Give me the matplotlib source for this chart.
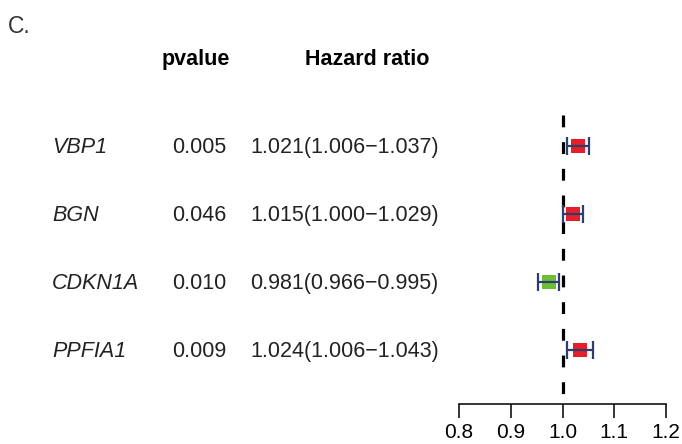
import numpy as np
import matplotlib
matplotlib.use('Agg')
import matplotlib.pyplot as plt

plt.rcParams['font.family'] = ['Liberation Sans', 'DejaVu Sans']

genes = ['VBP1', 'BGN', 'CDKN1A', 'PPFIA1']
pvals = [0.005, 0.046, 0.010, 0.009]
hr = [1.021, 1.015, 0.981, 1.024]
hr_low = [1.006, 1.000, 0.966, 1.006]
hr_high = [1.037, 1.029, 0.995, 1.043]
axis_ticks = [0.8, 0.9, 1.0, 1.1, 1.2]

W, H = 682, 444
fig = plt.figure(figsize=(W / 100, H / 100), dpi=100)

# rows share one vertical mapping: row 0 at 145 px, 68 px apart
row0, step = 145.5, 68.0
ylo, yhi = (H - row0) / step, -row0 / step

# text columns live on a full-figure axes in pixel x
ax_txt = fig.add_axes([0, 0, 1, 1])
ax_txt.set_xlim(0, W)
ax_txt.set_ylim(ylo, yhi)
ax_txt.axis('off')

fs = 15.5
ax_txt.text(8, 33 / step + yhi, 'C.', fontsize=16.5, color='#333333', va='baseline')
ax_txt.text(162, 65 / step + yhi, 'pvalue', fontsize=fs, fontweight='bold', va='baseline')
ax_txt.text(305, 65 / step + yhi, 'Hazard ratio', fontsize=fs, fontweight='bold', va='baseline')

rows = np.arange(len(genes))
for i, g in enumerate(genes):
    yb = rows[i] + 7.5 / step
    ax_txt.text(52, yb, g, fontsize=fs, fontstyle='italic', color='#222222', va='baseline')
    ax_txt.text(172, yb, f'{pvals[i]:.3f}', fontsize=fs, color='#222222', va='baseline')
    ax_txt.text(250, yb, f'{hr[i]:.3f}({hr_low[i]:.3f}\u2212{hr_high[i]:.3f})',
                fontsize=fs, color='#222222', va='baseline')

# forest panel
px_per_unit = 718.0
x_one = 562.5
left_px = 440
ax = fig.add_axes([left_px / W, 0, 1 - left_px / W, 1])
ax.set_xlim(1 + (left_px - x_one) / px_per_unit, 1 + (W - x_one) / px_per_unit)
ax.set_ylim(ylo, yhi)
ax.axis('off')

ax.plot([1, 1], [(115 - row0) / step, (394.5 - row0) / step], color='black',
        linewidth=2.3, linestyle=(0, (3.7, 4.65)), solid_capstyle='butt')

box_cols = ['#E61E2A' if v >= 1 else '#6CBE35' for v in hr]
for i in range(len(genes)):
    ax.plot(hr[i], rows[i], marker='s', markersize=10, color=box_cols[i],
            markeredgewidth=0, linestyle='none', zorder=2)
    ax.errorbar(hr[i], rows[i],
                xerr=[[hr[i] - hr_low[i]], [hr_high[i] - hr[i]]],
                fmt='none', ecolor='#2E3D6E', elinewidth=1.6,
                capsize=6.5, capthick=1.6, zorder=3)

# separate axis strip below the forest, like the original
ax_x = fig.add_axes([459 / W, (H - 404) / H, 207 / W, 0.0001])
ax_x.set_xlim(axis_ticks[0], axis_ticks[-1])
for s in ['top', 'left', 'right']:
    ax_x.spines[s].set_visible(False)
ax_x.spines['bottom'].set_linewidth(1.1)
ax_x.set_yticks([])
ax_x.set_xticks(axis_ticks)
ax_x.set_xticklabels([f'{t:.1f}' for t in axis_ticks])
ax_x.tick_params(axis='x', length=10, width=1.1, pad=3.5, labelsize=15)
ax_x.patch.set_visible(False)

fig.savefig('out.png', dpi=100)
